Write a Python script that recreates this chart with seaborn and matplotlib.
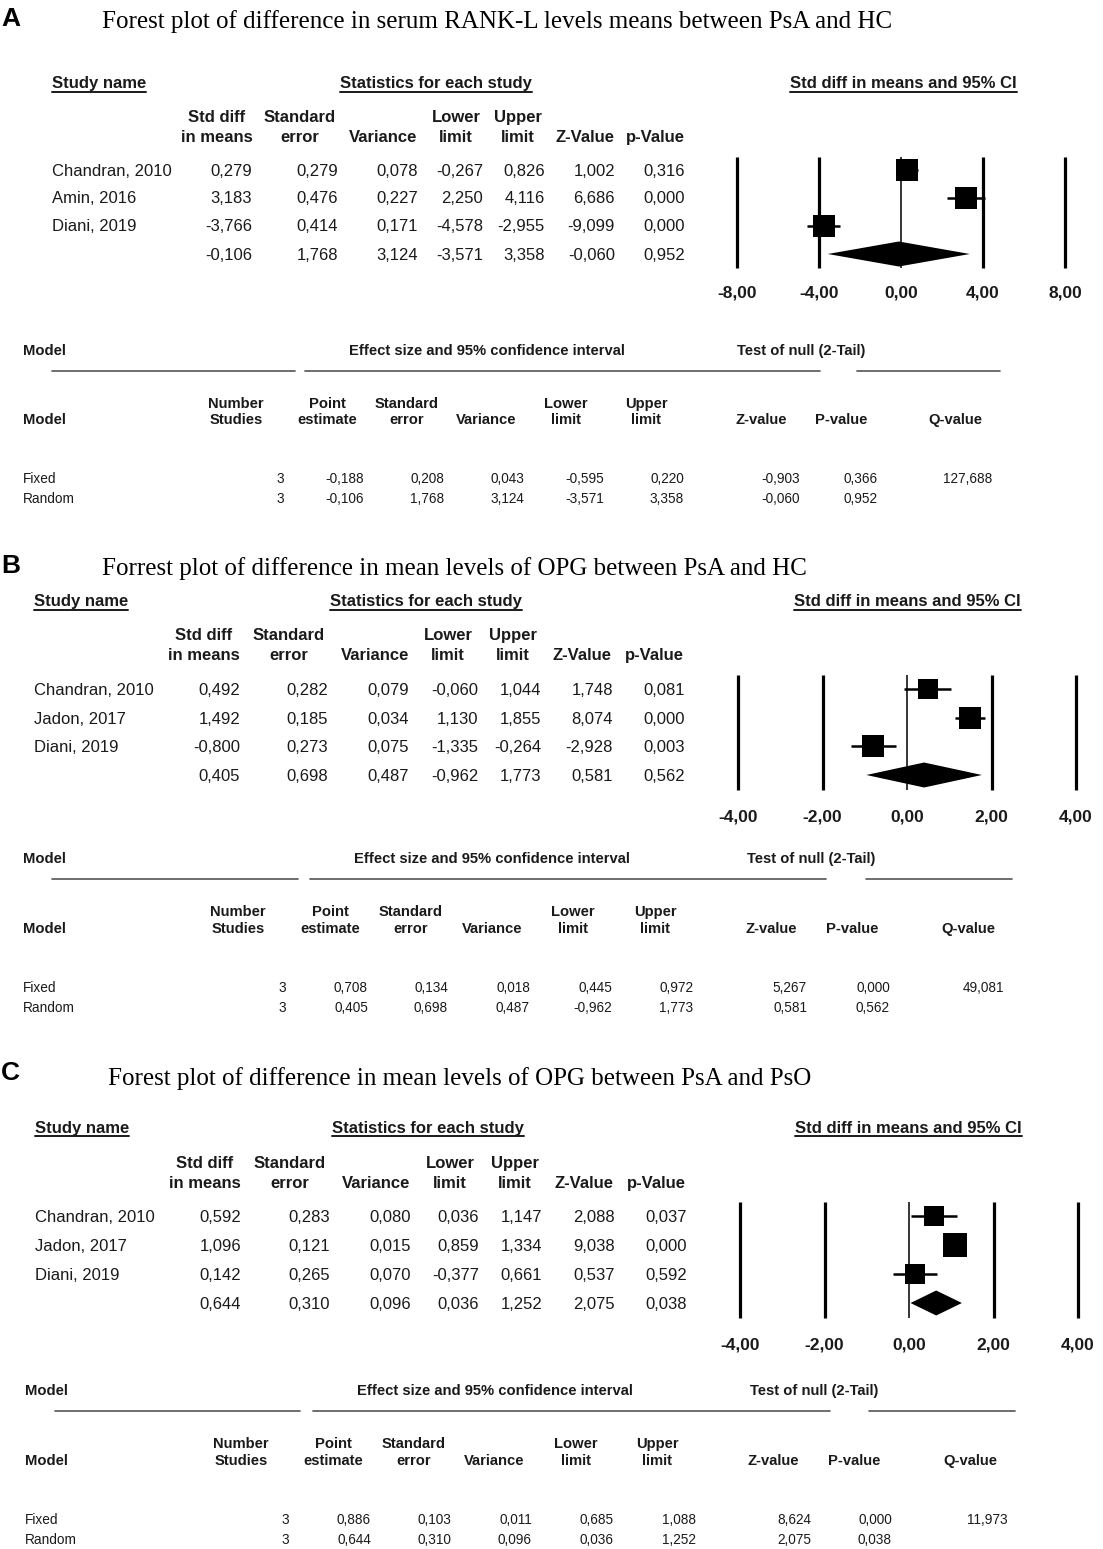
import numpy as np
import pandas as pd
import matplotlib
matplotlib.use("Agg")
import matplotlib.pyplot as plt
import seaborn as sns

sns.set_theme(style="white")
plt.rcParams['font.family'] = ['Liberation Sans', 'DejaVu Sans']

# ---------------- DATA ----------------
title_A = "Forest plot of difference in serum RANK-L levels means between PsA and HC"
studies_A = ["Chandran, 2010", "Amin, 2016", "Diani, 2019"]
smd_A = [0.279, 3.183, -3.766]
se_A = [0.279, 0.476, 0.414]
var_A = [0.078, 0.227, 0.171]
lower_A = [-0.267, 2.250, -4.578]
upper_A = [0.826, 4.116, -2.955]
z_A = [1.002, 6.686, -9.099]
p_A = [0.316, 0.000, 0.000]
summary_A = [-0.106, 1.768, 3.124, -3.571, 3.358, -0.060, 0.952]
fixed_A = [3, -0.188, 0.208, 0.043, -0.595, 0.220, -0.903, 0.366, 127.688]
random_A = [3, -0.106, 1.768, 3.124, -3.571, 3.358, -0.060, 0.952]
ticks_A = [-8, -4, 0, 4, 8]

title_B = "Forrest plot of difference in mean levels of OPG between PsA and HC"
studies_B = ["Chandran, 2010", "Jadon, 2017", "Diani, 2019"]
smd_B = [0.492, 1.492, -0.800]
se_B = [0.282, 0.185, 0.273]
var_B = [0.079, 0.034, 0.075]
lower_B = [-0.060, 1.130, -1.335]
upper_B = [1.044, 1.855, -0.264]
z_B = [1.748, 8.074, -2.928]
p_B = [0.081, 0.000, 0.003]
summary_B = [0.405, 0.698, 0.487, -0.962, 1.773, 0.581, 0.562]
fixed_B = [3, 0.708, 0.134, 0.018, 0.445, 0.972, 5.267, 0.000, 49.081]
random_B = [3, 0.405, 0.698, 0.487, -0.962, 1.773, 0.581, 0.562]
ticks_B = [-4, -2, 0, 2, 4]

title_C = "Forest plot of difference in mean levels of OPG between PsA and PsO"
studies_C = ["Chandran, 2010", "Jadon, 2017", "Diani, 2019"]
smd_C = [0.592, 1.096, 0.142]
se_C = [0.283, 0.121, 0.265]
var_C = [0.080, 0.015, 0.070]
lower_C = [0.036, 0.859, -0.377]
upper_C = [1.147, 1.334, 0.661]
z_C = [2.088, 9.038, 0.537]
p_C = [0.037, 0.000, 0.592]
summary_C = [0.644, 0.310, 0.096, 0.036, 1.252, 2.075, 0.038]
fixed_C = [3, 0.886, 0.103, 0.011, 0.685, 1.088, 8.624, 0.000, 11.973]
random_C = [3, 0.644, 0.310, 0.096, 0.036, 1.252, 2.075, 0.038]
ticks_C = [-4, -2, 0, 2, 4]

panels = [
    dict(letter="A", title=title_A, studies=studies_A,
         cols=[smd_A, se_A, var_A, lower_A, upper_A, z_A, p_A],
         summary=summary_A, fixed=fixed_A, random=random_A, ticks=ticks_A),
    dict(letter="B", title=title_B, studies=studies_B,
         cols=[smd_B, se_B, var_B, lower_B, upper_B, z_B, p_B],
         summary=summary_B, fixed=fixed_B, random=random_B, ticks=ticks_B),
    dict(letter="C", title=title_C, studies=studies_C,
         cols=[smd_C, se_C, var_C, lower_C, upper_C, z_C, p_C],
         summary=summary_C, fixed=fixed_C, random=random_C, ticks=ticks_C),
]

stat_headers = [("Std diff", "in means"), ("Standard", "error"), ("", "Variance"),
                ("Lower", "limit"), ("Upper", "limit"), ("", "Z-Value"), ("", "p-Value")]
model_headers = [("Number", "Studies"), ("Point", "estimate"), ("Standard", "error"),
                 ("", "Variance"), ("Lower", "limit"), ("Upper", "limit"),
                 ("", "Z-value"), ("", "P-value"), ("", "Q-value")]

# ---------------- LAYOUT (pixels) ----------------
layouts = [
    dict(letter=(1, 16), title=(102, 19), hdr_y=82, name_x=52,
         hdr_cols=[217, 300, 383, 456, 518, 585, 655],
         val_right=[252, 338, 418, 483, 545, 615, 685],
         hdr_y1=116, hdr_y2=136, rows=[170, 197, 225, 254],
         stat_hdr=(340, 527), ci_hdr=(790, 1013),
         x0=737, x1=1065, ltop=157, lbot=268, tick_y=294,
         sq=[22, 22, 22],
         m_title_y=350, m_line_y=371,
         m_lines=[(52, 295), (305, 820), (857, 1000)],
         m_x=23, m_eff_c=487, m_null_c=801, m_h1=403, m_h2=419,
         m_rows=[478, 498],
         m_cols=[236, 327, 407, 486, 566, 646, 761, 841, 955],
         m_right=[284, 364, 444, 524, 604, 684, 800, 878, 992]),
    dict(letter=(1, 563), title=(102, 566), hdr_y=600, name_x=34,
         hdr_cols=[204, 289, 375, 448, 513, 582, 654],
         val_right=[240, 328, 409, 478, 541, 613, 685],
         hdr_y1=634, hdr_y2=654, rows=[689, 718, 746, 775],
         stat_hdr=(330, 522), ci_hdr=(794, 1022),
         x0=738, x1=1076, ltop=675, lbot=790, tick_y=817,
         sq=[20, 22, 22],
         m_title_y=858, m_line_y=879,
         m_lines=[(52, 298), (310, 826), (866, 1012)],
         m_x=23, m_eff_c=492, m_null_c=811, m_h1=911, m_h2=928,
         m_rows=[987, 1007],
         m_cols=[238, 330, 411, 492, 573, 655, 771, 852, 968],
         m_right=[286, 368, 448, 530, 612, 693, 807, 890, 1004]),
    dict(letter=(1, 1071), title=(108, 1076), hdr_y=1127, name_x=35,
         hdr_cols=[205, 290, 376, 450, 515, 584, 656],
         val_right=[241, 330, 411, 479, 542, 615, 687],
         hdr_y1=1162, hdr_y2=1182, rows=[1216, 1245, 1274, 1303],
         stat_hdr=(332, 524), ci_hdr=(795, 1024),
         x0=740, x1=1078, ltop=1202, lbot=1318, tick_y=1345,
         sq=[20, 23, 20],
         m_title_y=1390, m_line_y=1411,
         m_lines=[(55, 300), (313, 830), (869, 1015)],
         m_x=25, m_eff_c=495, m_null_c=814, m_h1=1443, m_h2=1460,
         m_rows=[1519, 1539],
         m_cols=[241, 333, 414, 494, 576, 657, 773, 854, 970],
         m_right=[289, 371, 451, 532, 614, 696, 811, 892, 1008]),
]

W, H = 1103, 1549
DPI = 100
PT = DPI / 72.0

fig = plt.figure(figsize=(W / DPI, H / DPI), dpi=DPI)
fig.patch.set_facecolor("white")
ax0 = fig.add_axes([0, 0, 1, 1])
ax0.set_xlim(0, W)
ax0.set_ylim(H, 0)
ax0.axis("off")

TXT = "#1a1a1a"
SANS = ['Liberation Sans', 'DejaVu Sans']
SERIF = ['Liberation Serif', 'DejaVu Serif']
FS_TAB = 12
FS_MODH = 10.6
FS_MODV = 9.8


def fmt(v, nd=3):
    return f"{v:.{nd}f}".replace(".", ",")


def txt(x, y, s, fs, ha="left", bold=False, family=SANS, color=TXT):
    """Place text so that the middle of its cap height sits at pixel row y."""
    return ax0.text(x, y + 0.36 * fs * PT, s, fontsize=fs, ha=ha, va="baseline",
                    fontweight="bold" if bold else "normal", family=family, color=color)


underlined = []

for p, L in zip(panels, layouts):
    txt(L["letter"][0], L["letter"][1], p["letter"], 19, bold=True, color="black")
    txt(L["title"][0], L["title"][1], p["title"], 18, family=SERIF, color="black")

    underlined.append(txt(L["name_x"], L["hdr_y"], "Study name", FS_TAB, bold=True))
    underlined.append(txt(L["stat_hdr"][0], L["hdr_y"], "Statistics for each study",
                          FS_TAB, bold=True))
    underlined.append(txt(L["ci_hdr"][0], L["hdr_y"], "Std diff in means and 95% CI",
                          FS_TAB, bold=True))

    for (h1, h2), cx in zip(stat_headers, L["hdr_cols"]):
        if h1:
            txt(cx, L["hdr_y1"], h1, FS_TAB, ha="center", bold=True)
        txt(cx, L["hdr_y2"], h2, FS_TAB, ha="center", bold=True)

    nrows = len(p["studies"])
    for i in range(nrows):
        y = L["rows"][i]
        txt(L["name_x"], y, p["studies"][i], FS_TAB)
        for col, rx in zip(p["cols"], L["val_right"]):
            txt(rx, y, fmt(col[i]), FS_TAB, ha="right")
    y = L["rows"][nrows]
    for v, rx in zip(p["summary"], L["val_right"]):
        txt(rx, y, fmt(v), FS_TAB, ha="right")

    # ---------- forest plot ----------
    t = p["ticks"]
    scale = (L["x1"] - L["x0"]) / (t[-1] - t[0])
    rows = L["rows"]
    sp = (rows[-1] - rows[0]) / (len(rows) - 1)
    mx = 35
    left_px, right_px = L["x0"] - mx, L["x1"] + mx
    top_px, bot_px = L["ltop"] - 4, L["lbot"] + 4
    ax = fig.add_axes([left_px / W, 1 - bot_px / H, (right_px - left_px) / W,
                       (bot_px - top_px) / H])
    ax.set_xlim(t[0] - mx / scale, t[-1] + mx / scale)
    ax.set_ylim((bot_px - rows[0]) / sp, (top_px - rows[0]) / sp)
    ax.patch.set_alpha(0)
    for s in ax.spines.values():
        s.set_visible(False)
    y_lo = (L["ltop"] - rows[0]) / sp
    y_hi = (L["lbot"] - rows[0]) / sp
    ax.vlines([v for v in t if v != 0], y_lo, y_hi, color="black", lw=2.3)
    ax.vlines([0], y_lo, y_hi, color="black", lw=1.1)

    smd, lo, hi = p["cols"][0], p["cols"][3], p["cols"][4]
    ypos = list(range(nrows))
    ax.hlines(ypos, lo, hi, color="black", lw=1.8)
    for i in range(nrows):
        df = pd.DataFrame({"x": [smd[i]], "y": [ypos[i]]})
        sns.scatterplot(data=df, x="x", y="y", marker="s", s=(L["sq"][i] / PT) ** 2,
                        color="black", edgecolor="black", linewidth=0, ax=ax, legend=False,
                        zorder=3)
    est, slo, shi = p["summary"][0], p["summary"][3], p["summary"][4]
    hh = 12.5 / sp
    ax.fill([slo, est, shi, est], [nrows, nrows - hh, nrows, nrows + hh], color="black",
            lw=0, zorder=3)

    ax.set_xlabel("")
    ax.set_ylabel("")
    ax.set_yticks([])
    ax.set_xticks(t)
    ax.set_xticklabels([fmt(v, 2) for v in t], fontsize=12.5, fontweight="bold",
                       family=SANS, color=TXT)
    pad_px = L["tick_y"] - 8 - bot_px
    ax.tick_params(axis="x", length=0, pad=pad_px / PT, bottom=True)
    ax.grid(False)

    # ---------- model table ----------
    txt(L["m_x"], L["m_title_y"], "Model", FS_MODH, bold=True)
    txt(L["m_eff_c"], L["m_title_y"], "Effect size and 95% confidence interval", FS_MODH,
        ha="center", bold=True)
    txt(L["m_null_c"], L["m_title_y"], "Test of null (2-Tail)", FS_MODH, ha="center",
        bold=True)
    for a, b in L["m_lines"]:
        ax0.plot([a, b], [L["m_line_y"], L["m_line_y"]], color="#555555", lw=1.2)
    txt(L["m_x"], L["m_h2"], "Model", FS_MODH, bold=True)
    for (h1, h2), cx in zip(model_headers, L["m_cols"]):
        if h1:
            txt(cx, L["m_h1"], h1, FS_MODH, ha="center", bold=True)
        txt(cx, L["m_h2"], h2, FS_MODH, ha="center", bold=True)
    for label, vals, y in [("Fixed", p["fixed"], L["m_rows"][0]),
                           ("Random", p["random"], L["m_rows"][1])]:
        txt(L["m_x"], y, label, FS_MODV)
        for j, (v, rx) in enumerate(zip(vals, L["m_right"])):
            s = str(int(v)) if j == 0 else fmt(v)
            txt(rx, y, s, FS_MODV, ha="right")

# underline section headers
fig.canvas.draw()
r = fig.canvas.get_renderer()
inv = ax0.transData.inverted()
for tx in underlined:
    bb = tx.get_window_extent(r)
    (xa, ya), (xb, yb) = inv.transform([[bb.x0, bb.y0], [bb.x1, bb.y1]])
    ax0.plot([xa, xb], [ya + 0.5, ya + 0.5], color=TXT, lw=1.4)

fig.savefig("out.png", dpi=DPI, facecolor="white")
